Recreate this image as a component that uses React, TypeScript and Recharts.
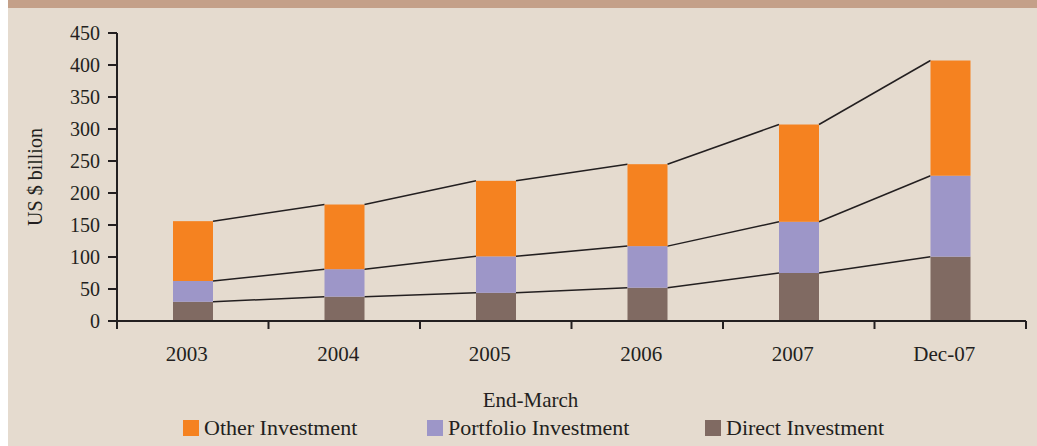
import React from "react";
import { ComposedChart, Bar, XAxis, YAxis, Legend } from "recharts";

// values (US $ billion, stacked segments)
const categories = ["2003", "2004", "2005", "2006", "2007", "Dec-07"];
const directInvestment = [30, 38, 44, 52, 75, 100.5];
const portfolioInvestment = [32.5, 43, 57, 65, 80, 126.5];
const otherInvestment = [93.5, 101, 118, 128, 152, 180];
const yTicks = [0, 50, 100, 150, 200, 250, 300, 350, 400, 450];

const INK = "#231f20";
const FONT = '"Liberation Serif", "Times New Roman", serif';

const CHART_W = 1037;
const CHART_H = 446;
const MARGIN = { top: 33, right: 11, bottom: 0, left: 0 };
const Y_AXIS_W = 117;
const LEGEND_H = 32;
const X_AXIS_H = 93;
const PLOT_W = CHART_W - MARGIN.left - MARGIN.right - Y_AXIS_W;
const AXIS_Y = CHART_H - MARGIN.bottom - LEGEND_H - X_AXIS_H;
const STEP = PLOT_W / categories.length;

const series = [
  { key: "direct", name: "Direct Investment", values: directInvestment, color: "#806a62" },
  { key: "portfolio", name: "Portfolio Investment", values: portfolioInvestment, color: "#9d96c8" },
  { key: "other", name: "Other Investment", values: otherInvestment, color: "#f58220" },
];

const data = categories.map((category, i) => {
  const row: Record<string, string | number> = { category };
  series.forEach((s) => {
    row[s.key] = s.values[i];
  });
  return row;
});

// cumulative top of a series in each category
const topsFor = (seriesIndex: number) =>
  categories.map((_, i) =>
    series.slice(0, seriesIndex + 1).reduce((sum, s) => sum + s.values[i], 0)
  );

// bar segment plus the connector line running to the next bar's top-left corner
function connectorShape(seriesIndex: number) {
  const tops = topsFor(seriesIndex);
  const values = series[seriesIndex].values;
  return (props: any) => {
    const { x, y, width, height, index, fill } = props;
    const k = height / values[index];
    const base = y + tops[index] * k;
    const hasNext = index < categories.length - 1;
    return (
      <g>
        <rect x={x} y={y} width={width} height={height} fill={fill} />
        {hasNext && (
          <line
            x1={x + width}
            y1={y}
            x2={x + STEP}
            y2={base - tops[index + 1] * k}
            stroke={INK}
            strokeWidth={1.5}
          />
        )}
      </g>
    );
  };
}

function XTick(props: any) {
  const { x, payload, index } = props;
  const half = STEP / 2;
  const last = index === categories.length - 1;
  return (
    <g>
      <line x1={x - half} x2={x - half} y1={AXIS_Y} y2={AXIS_Y + 8} stroke={INK} strokeWidth={2} />
      {last && (
        <line x1={x + half} x2={x + half} y1={AXIS_Y} y2={AXIS_Y + 8} stroke={INK} strokeWidth={2} />
      )}
      <text x={x - 6} y={AXIS_Y + 40} textAnchor="middle" fill={INK} fontSize={21} fontFamily={FONT}>
        {payload.value}
      </text>
    </g>
  );
}

const legendWidths = [244, 278, 220];

function LegendContent() {
  return (
    <div
      style={{
        height: LEGEND_H,
        boxSizing: "border-box",
        paddingTop: 6,
        paddingLeft: 183,
        display: "flex",
        alignItems: "flex-start",
        fontFamily: FONT,
        fontSize: 22,
        color: INK,
      }}
    >
      {[...series].reverse().map((s, i) => (
        <div key={s.key} style={{ display: "flex", alignItems: "center", height: 16, width: legendWidths[i] }}>
          <span style={{ width: 16, height: 16, background: s.color, marginRight: 5, flex: "none" }} />
          <span style={{ whiteSpace: "nowrap" }}>{s.name}</span>
        </div>
      ))}
    </div>
  );
}

export default function App() {
  return (
    <div style={{ position: "absolute", left: 0, top: 0, width: CHART_W, height: CHART_H, background: "#ffffff" }}>
      <div style={{ position: "absolute", left: 8, top: 0, right: 0, bottom: 0, background: "#e5dbcf" }} />
      <div style={{ position: "absolute", left: 8, top: 0, right: 0, height: 8, background: "#c4a089" }} />
      <div style={{ position: "absolute", left: 0, top: 0 }}>
        <ComposedChart width={CHART_W} height={CHART_H} data={data} margin={MARGIN}>
          <XAxis
            dataKey="category"
            height={X_AXIS_H}
            interval={0}
            tickLine={false}
            axisLine={{ stroke: INK, strokeWidth: 2 }}
            tick={(p: any) => <XTick {...p} />}
            label={{
              value: "End-March",
              position: "insideBottom",
              offset: 7,
              dx: -41,
              style: { fontSize: 21, fill: INK, fontFamily: FONT },
            }}
          />
          <YAxis
            width={Y_AXIS_W}
            domain={[0, 450]}
            ticks={yTicks}
            interval={0}
            tickSize={9}
            tickMargin={8}
            tickLine={{ stroke: INK, strokeWidth: 2 }}
            axisLine={{ stroke: INK, strokeWidth: 2 }}
            tick={{ fontSize: 20, fill: INK, fontFamily: FONT }}
            label={{
              value: "US $ billion",
              angle: -90,
              position: "center",
              dx: -24,
              style: { fontSize: 20, fill: INK, fontFamily: FONT },
            }}
          />
          <Legend verticalAlign="bottom" height={LEGEND_H} content={() => <LegendContent />} />
          {series.map((s, i) => (
            <Bar
              key={s.key}
              dataKey={s.key}
              name={s.name}
              stackId="inv"
              fill={s.color}
              barSize={40}
              isAnimationActive={false}
              shape={connectorShape(i)}
            />
          ))}
        </ComposedChart>
      </div>
    </div>
  );
}
